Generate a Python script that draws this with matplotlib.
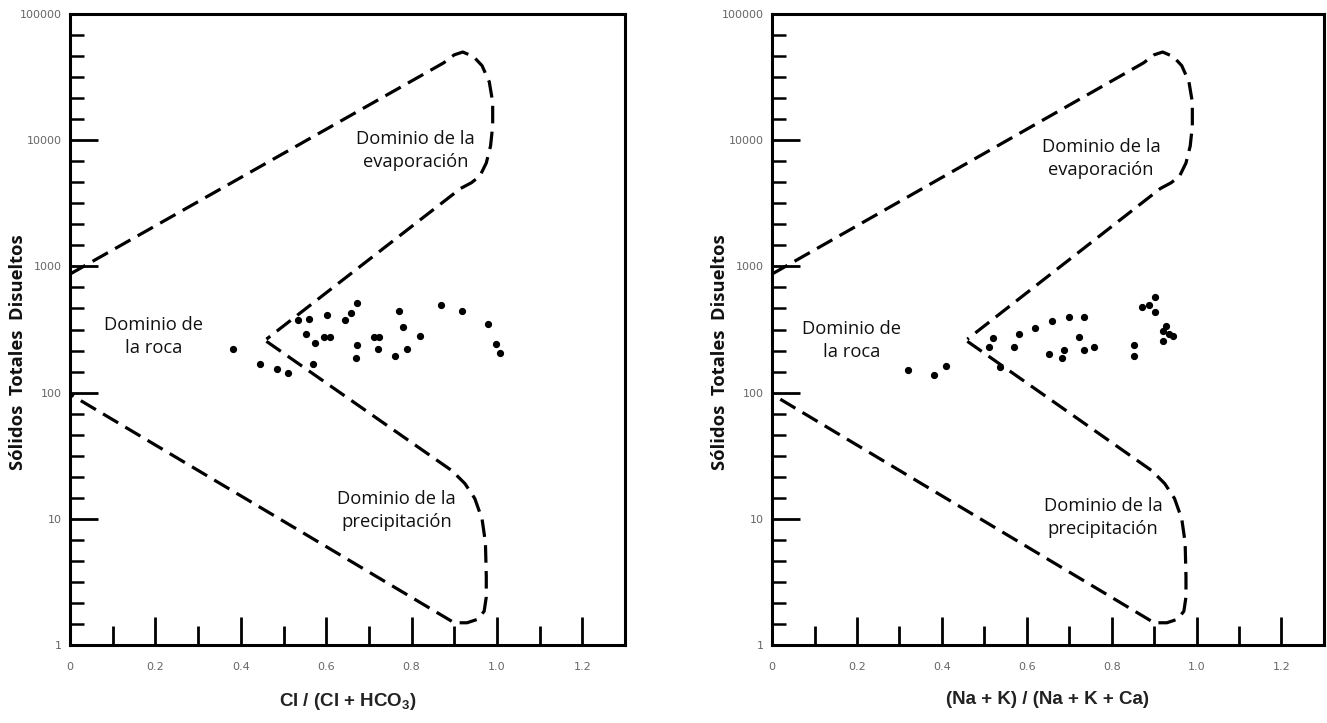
import numpy as np
import matplotlib.pyplot as plt
from matplotlib.ticker import FixedLocator, FixedFormatter

plt.rcParams['mathtext.fontset'] = 'custom'
plt.rcParams['mathtext.rm'] = 'Liberation Sans'
plt.rcParams['mathtext.bf'] = 'Liberation Sans:bold'

# --- datos ---
cl_x = [0.382, 0.445, 0.484, 0.511, 0.535, 0.559, 0.553, 0.573, 0.596, 0.608,
        0.570, 0.602, 0.643, 0.659, 0.671, 0.672, 0.669, 0.712, 0.724, 0.722,
        0.761, 0.771, 0.780, 0.790, 0.820, 0.869, 0.918, 0.978, 0.998, 1.008]
cl_tds = [221, 168, 153, 144, 376, 381, 291, 246, 277, 277,
          169, 412, 376, 430, 516, 238, 187, 277, 277, 221,
          195, 443, 333, 221, 282, 494, 443, 350, 241, 207]

na_x = [0.320, 0.382, 0.410, 0.520, 0.512, 0.538, 0.569, 0.581, 0.620, 0.653,
        0.660, 0.687, 0.683, 0.699, 0.723, 0.734, 0.735, 0.759, 0.852, 0.853,
        0.871, 0.888, 0.902, 0.902, 0.928, 0.922, 0.944, 0.920, 0.935]
na_tds = [151, 137, 162, 272, 231, 159, 231, 290, 323, 202,
          371, 218, 187, 399, 276, 399, 218, 230, 237, 196,
          477, 494, 569, 435, 339, 310, 281, 256, 291]

# limites de Gibbs (vertices)
evap_x = [0.0, 0.875, 0.90, 0.92, 0.945, 0.965, 0.982, 0.99, 0.99, 0.985, 0.975, 0.96, 0.94, 0.915, 0.46]
evap_y = [870, 41000, 47500, 50000, 46000, 39000, 29000, 20000, 13000, 9000, 6600, 5200, 4600, 4150, 265]
prec_x = [0.46, 0.895, 0.925, 0.948, 0.965, 0.973, 0.975, 0.975, 0.97, 0.955, 0.93, 0.90, 0.0]
prec_y = [255, 24, 19, 14.5, 10, 6.5, 3.5, 2.4, 1.85, 1.6, 1.5, 1.5, 97]

x_ticks = [0, 0.2, 0.4, 0.6, 0.8, 1.0, 1.2]
x_labels = ['0', '0.2', '0.4', '0.6', '0.8', '1.0', '1.2']
y_ticks = [1, 10, 100, 1000, 10000, 100000]
y_labels = ['1', '10', '100', '1000', '10000', '100000']

paneles = [
    (cl_x, cl_tds, r'Cl / (Cl + HCO$_\mathbf{3}$)',
     [(0.81, 8300), (0.195, 280), (0.765, 11.7)]),
    (na_x, na_tds, '(Na + K) / (Na + K + Ca)',
     [(0.775, 7200), (0.188, 260), (0.78, 10.3)]),
]
textos = ['Dominio de la\nevaporación', 'Dominio de\nla roca', 'Dominio de la\nprecipitación']

fig = plt.figure(figsize=(13.27, 7.23), dpi=100)
posiciones = [[0.0528, 0.1079, 0.4182, 0.8727], [0.5818, 0.1079, 0.4159, 0.8727]]
ylabel_x = [18, 720]

for i, (px, py, xlab, pos_txt) in enumerate(paneles):
    ax = fig.add_axes(posiciones[i])
    ax.set_yscale('log')
    ax.set_xlim(0, 1.3)
    ax.set_ylim(1, 100000)

    ls = (0, (5.5, 2.6))
    ax.plot(evap_x, evap_y, color='black', lw=2.3, linestyle=ls)
    ax.plot(prec_x, prec_y, color='black', lw=2.3, linestyle=ls)
    ax.plot(px, py, 'o', color='black', markersize=4.2, linestyle='none')

    for t, (tx, ty) in zip(textos, pos_txt):
        ax.text(tx, ty, t, ha='center', va='center', fontsize=13.2,
                family='Open Sans', color='#111111', linespacing=1.35)

    for s in ax.spines.values():
        s.set_linewidth(2.2)

    ax.xaxis.set_major_locator(FixedLocator(x_ticks))
    ax.xaxis.set_major_formatter(FixedFormatter(x_labels))
    ax.xaxis.set_minor_locator(FixedLocator(np.arange(0.1, 1.3, 0.2)))
    ax.yaxis.set_major_locator(FixedLocator(y_ticks))
    ax.yaxis.set_major_formatter(FixedFormatter(y_labels))
    ax.yaxis.set_minor_locator(FixedLocator(
        [10 ** (d + j / 6) for d in range(5) for j in range(1, 6)]))
    ax.yaxis.set_minor_formatter(FixedFormatter([]))

    ax.tick_params(axis='both', which='both', direction='in', top=False, right=False,
                   labelsize=8, labelcolor='#666666', color='black')
    ax.tick_params(axis='x', which='major', length=20, width=2.0, pad=12)
    ax.tick_params(axis='x', which='minor', length=14, width=2.0)
    ax.tick_params(axis='y', which='major', length=20, width=2.0, pad=6)
    ax.tick_params(axis='y', which='minor', length=10, width=1.8)

    ax.set_xlabel(xlab, fontsize=13.5, fontweight='bold', family='Liberation Sans',
                  color='#222222', labelpad=14)
    fig.text(ylabel_x[i] / 1327, 1 - 352 / 723, 'Sólidos  Totales  Disueltos',
             rotation=90, ha='center', va='center', fontsize=13.2,
             fontweight='bold', family='Open Sans', color='#111111')

fig.savefig('out.png', dpi=100, facecolor='white')
